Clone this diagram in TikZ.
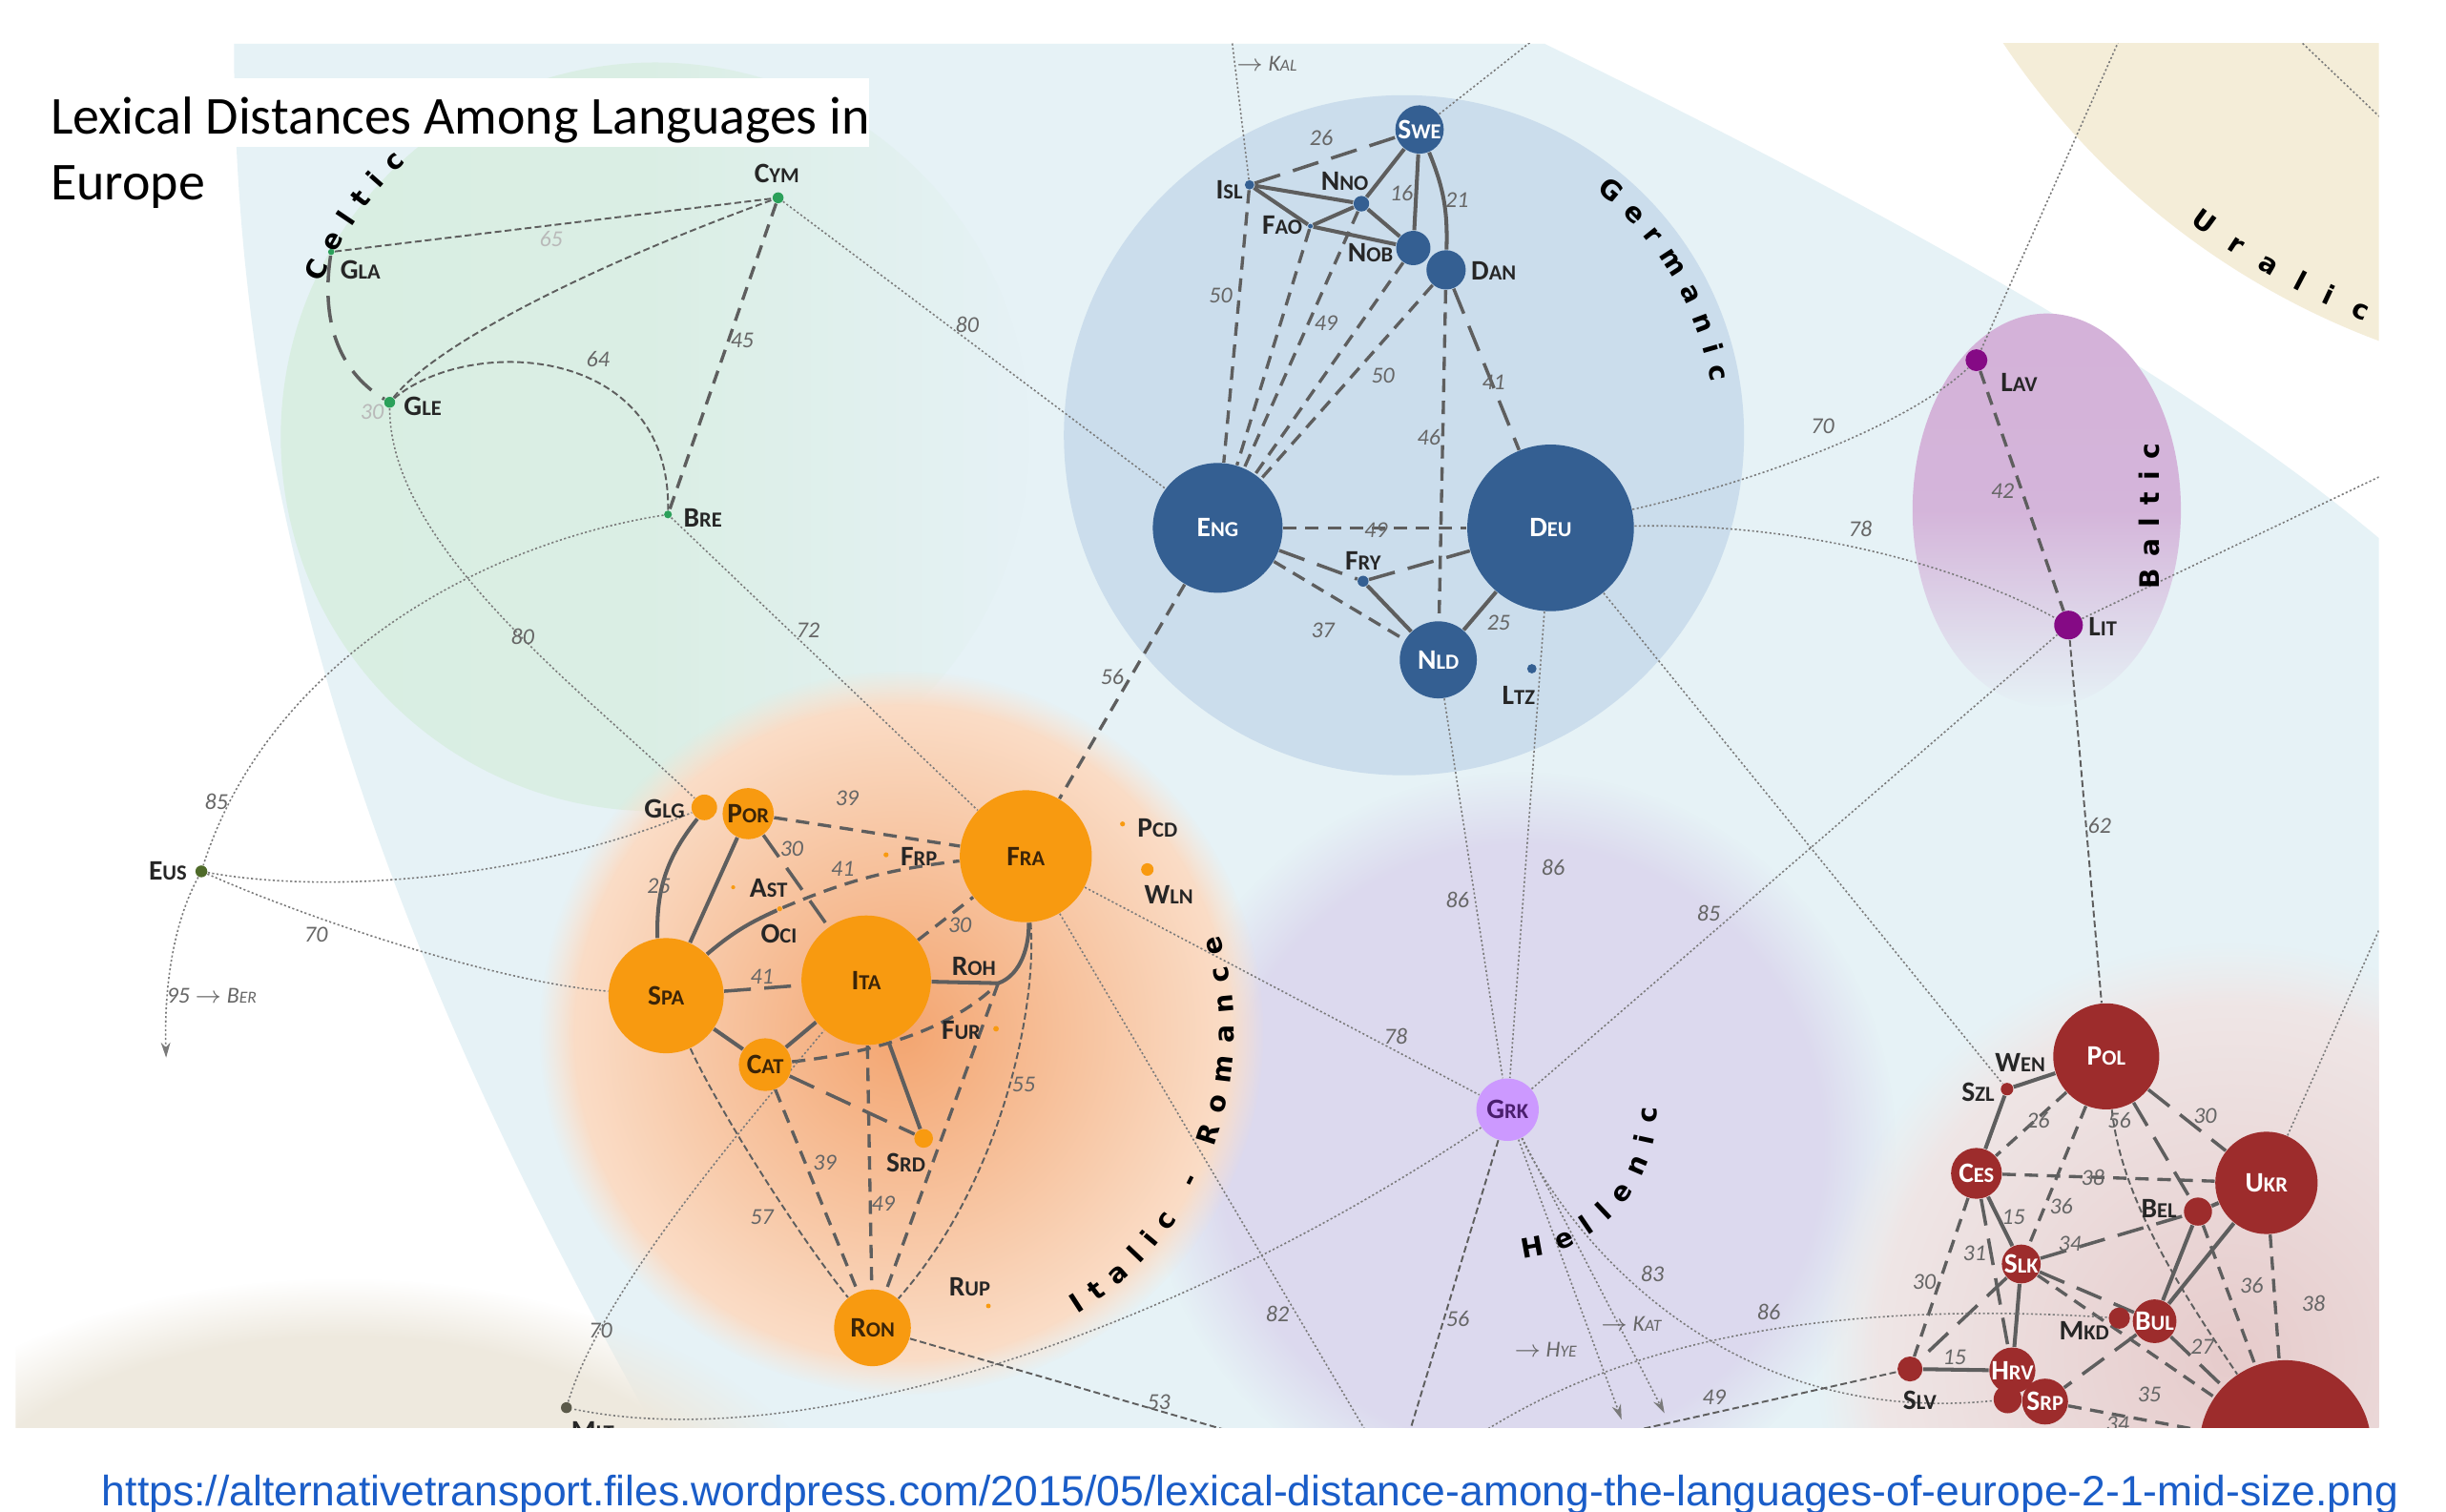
\documentclass[tikz,border=0pt]{standalone}
\usepackage{fontspec}
\setmainfont{Carlito}
\newfontfamily\grpfont{DejaVu Sans}
\newfontfamily\urlfont{Liberation Sans}
\usetikzlibrary{decorations.text,fadings,arrows.meta}

\pgfdeclarelayer{bg}
\pgfdeclarelayer{edges}
\pgfsetlayers{bg,edges,main}

\newcommand\px{0.16352mm}
\newcommand\lng[2]{{\fontsize{8.4}{9}\selectfont #1\fontsize{6.4}{7}\selectfont #2}}
\newcommand\arr{$\rightarrow$}

\definecolor{gercol}{HTML}{345F92}
\definecolor{gerreg}{HTML}{CBDDEC}
\definecolor{romcol}{HTML}{F89A10}
\definecolor{romtxt}{HTML}{3B2408}
\definecolor{romin}{HTML}{F3A570}
\definecolor{romout}{HTML}{FBE2CF}
\definecolor{celcol}{HTML}{2BA05A}
\definecolor{celreg}{HTML}{D9EEE2}
\definecolor{baltcol}{HTML}{850A85}
\definecolor{baltreg}{HTML}{D4B2D9}
\definecolor{slavcol}{HTML}{9D2C2C}
\definecolor{slavin}{HTML}{E6CBCB}
\definecolor{slavout}{HTML}{F0EAEA}
\definecolor{grkcol}{HTML}{CC99FF}
\definecolor{grktxt}{HTML}{4A1E6E}
\definecolor{helreg}{HTML}{DCD9EE}
\definecolor{iereg}{HTML}{E6F2F6}
\definecolor{urareg}{HTML}{F4EDD8}
\definecolor{beireg}{HTML}{EEE9DE}
\definecolor{edgecol}{HTML}{5E5E5E}
\definecolor{linkcol}{HTML}{7A7A7A}
\definecolor{numcol}{HTML}{666666}
\definecolor{urlcol}{HTML}{1A5DC8}
\definecolor{euscol}{HTML}{4F6B2A}
\definecolor{mltcol}{HTML}{5B5A4A}

\tikzfading[name=celfade, left color=transparent!0, right color=transparent!100, middle color=transparent!15]
\tikzfading[name=baltfade, top color=transparent!0, bottom color=transparent!100, middle color=transparent!5]

\tikzset{
  disc/.style={circle, inner sep=0pt, minimum size={2*#1*\px}, font=\bfseries},
  ger/.style={disc=#1, fill=gercol, text=white},
  rom/.style={disc=#1, fill=romcol, text=romtxt},
  cel/.style={disc=#1, fill=celcol},
  bal/.style={disc=#1, fill=baltcol},
  sla/.style={disc=#1, fill=slavcol, text=white},
  lbl/.style={inner sep=0pt, font=\bfseries, text=black!85},
  num/.style={inner sep=0pt, font=\fontsize{6.8}{7}\selectfont\itshape, text=numcol},
  sol/.style={draw=edgecol, line width=1.15pt},
  dsh/.style={draw=edgecol, line width=0.95pt, dash pattern=on 4pt off 2.6pt},
  ldsh/.style={draw=edgecol, line width=1pt, dash pattern=on 8pt off 4pt},
  fdsh/.style={draw=edgecol, line width=0.55pt, dash pattern=on 2pt off 1pt},
  link/.style={draw=linkcol, line width=0.45pt, dash pattern=on 0.6pt off 0.7pt},
  grptext/.style={decorate, decoration={text along path, text align=fit to path,
    text={|\grpfont\bfseries\fontsize{8}{8}\selectfont|#1}}},
}

\begin{document}
\begin{tikzpicture}[x=0.16352mm, y=-0.16352mm, >={Stealth[length=4.5pt,width=2.8pt]}]
\useasboundingbox (0,0) rectangle (1568,969);

% family regions
\begin{pgfonlayer}{bg}
  \fill[white] (0,0) rectangle (1568,969);
  \clip (10,28) rectangle (1525,915);
  \fill[iereg] (150,28) -- (990,28) .. controls (1200,130) and (1400,240) .. (1525,345)
    -- (1525,917) -- (420,917) .. controls (300,700) and (150,400) .. (150,28) -- cycle;
  \fill[urareg] (1700,-250) circle[radius=500];
  \fill[beireg, path fading=circle with fuzzy edge 20 percent] (220,1010) ellipse[x radius=330, y radius=190];
  \fill[celreg, path fading=celfade] (420,280) circle[radius=240];
  \fill[helreg, path fading=circle with fuzzy edge 20 percent] (975,735) circle[radius=240];
  \fill[gerreg] (900,279) circle[radius=218];
  \shade[inner color=romin, outer color=romout, path fading=circle with fuzzy edge 10 percent] (578,662) circle[radius=232];
  \shade[inner color=slavin, outer color=slavout, path fading=circle with fuzzy edge 15 percent] (1430,870) circle[radius=265];
  \fill[baltreg, path fading=baltfade] (1312,327) ellipse[x radius=86, y radius=126];
  % family names
  \path[grptext=Germanic] (900,280) ++(-52:200) arc[start angle=-52, end angle=-10, radius=200];
  \path[grptext=Celtic] (415,270) ++(-157:227) arc[start angle=-157, end angle=-133, radius=227];
  \path[grptext={Italic - Romance}] (578,662) ++(58:213) arc[start angle=58, end angle=-17, radius=213];
  \path[grptext=Hellenic] (966.4,711.4) ++(84:96) arc[start angle=84, end angle=-1, radius=96];
  \path[grptext=Uralic] (1700,-250) ++(127:492) arc[start angle=127, end angle=112, radius=492];
\end{pgfonlayer}

\begin{scope}
  \clip (10,28) rectangle (1525,915);
  \fill[white] (10,50) rectangle (557,94);
  \node[rotate=90, inner sep=0pt, font=\grpfont\bfseries\fontsize{8}{8}\selectfont\addfontfeatures{LetterSpace=45}] (baltic) at (1378,331) {Baltic};

  % Germanic
  \node[ger=15.5] (swe) at (910,83) {\lng{S}{WE}};
  \node[ger=3] (isl) at (801,118.5) {};
  \node[ger=5] (nno) at (872.7,130.6) {};
  \node[ger=1.5] (fao) at (840,145) {};
  \node[ger=11] (nob) at (906,159) {};
  \node[ger=12.6] (dan) at (927,173) {};
  \node[ger=41.6] (eng) at (780.6,338.4) {\lng{E}{NG}};
  \node[ger=53.4] (deu) at (994,338.4) {\lng{D}{EU}};
  \node[ger=3.5] (fry) at (873.8,372.6) {};
  \node[ger=24.7] (nld) at (922,423) {\lng{N}{LD}};
  \node[ger=3] (ltz) at (982,428.7) {};
  % Celtic
  \node[cel=3.5] (cym) at (498.8,126.8) {};
  \node[cel=2] (gla) at (212.3,161.5) {};
  \node[cel=3.5] (gle) at (249.8,257.9) {};
  \node[cel=2.5] (bre) at (428.2,329.8) {};
  % Romance
  \node[rom=8.2] (glg) at (451.5,517.6) {};
  \node[rom=16.4] (por) at (479.6,521.6) {\lng{P}{OR}};
  \node[rom=42.3] (fra) at (657.6,548.9) {\lng{F}{RA}};
  \node[rom=36.9] (spa) at (427,638.3) {\lng{S}{PA}};
  \node[rom=41.5] (ita) at (555.3,628.4) {\lng{I}{TA}};
  \node[rom=16.9] (cat) at (490.5,682.5) {\lng{C}{AT}};
  \node[rom=6] (srd) at (592.1,729.8) {};
  \node[rom=24.6] (ron) at (559.3,851.2) {\lng{R}{ON}};
  \node[rom=1.3] (ast) at (470,568.8) {};
  \node[rom=1.6] (oci) at (499.8,582.6) {};
  \node[rom=1.6] (frp) at (568,548) {};
  \node[rom=1.6] (pcd) at (719.6,528.2) {};
  \node[rom=4] (wln) at (735.5,557.4) {};
  \coordinate (roh) at (639.9,630.3);
  \node[rom=1.8] (fur) at (638.5,659.5) {};
  \node[rom=1.5] (rup) at (633.6,837.2) {};
  % Baltic
  \node[bal=7] (lav) at (1267,230.9) {};
  \node[bal=9.2] (lit) at (1326,400.7) {};
  % Slavic
  \node[sla=34] (pol) at (1350.2,677.2) {\lng{P}{OL}};
  \node[sla=32.8] (ukr) at (1452.9,758.3) {\lng{U}{KR}};
  \node[sla=16.3] (ces) at (1267,752.2) {\lng{C}{ES}};
  \node[sla=4] (szl) at (1286.6,698.2) {};
  \node[sla=9] (bel) at (1409,776.7) {};
  \node[sla=11.8] (slk) at (1295.7,810.3) {\lng{S}{LK}};
  \node[sla=14] (bul) at (1381.2,847) {\lng{B}{UL}};
  \node[sla=6.8] (mkd) at (1358.6,845) {};
  \node[sla=8] (slv) at (1224.4,877.6) {};
  \node[sla=9] (bos) at (1287,897) {};
  \node[sla=12.5] (hrv) at (1290,878.6) {\lng{H}{RV}};
  \node[sla=14.7] (srp) at (1311,898.5) {\lng{S}{RP}};
  \node[sla=55] (rus) at (1465,927) {};
  % isolates
  \node[disc=20, fill=grkcol, text=grktxt] (grk) at (966.4,711.4) {\lng{G}{RK}};
  \node[disc=3.8, fill=euscol] (eus) at (129.1,558.6) {};
  \node[disc=3.5, fill=mltcol] (mlt) at (363.1,902.4) {};

  % names beside the small discs
  \foreach \x/\y/\a/\b/\nm in {788/122/I/SL/isl, 862/116/N/NO/nno, 822/144.6/F/AO/fao,
      878.5/162/N/OB/nob, 957.5/173.9/D/AN/dan, 873.8/359.4/F/RY/fry, 973.5/445.6/L/TZ/ltz,
      498/111/C/YM/cym, 231/173/G/LA/gla, 271/260.5/G/LE/gle, 450.5/332/B/RE/bre,
      426/518.4/G/LG/glg, 580.7/745.2/S/RD/srd, 492.7/569.4/A/ST/ast, 499.3/598.4/O/CI/oci,
      589/549.4/F/RP/frp, 742/530.8/P/CD/pcd, 749.3/573.3/W/LN/wln, 624.3/619.7/R/OH/roh,
      616.1/660.3/F/UR/fur, 621.6/825.2/R/UP/rup, 1294.4/244.9/L/AV/lav, 1348/402/L/IT/lit,
      1268/700/S/ZL/szl, 1295/681/W/EN/wen, 1384/774.6/B/EL/bel, 1336/853/M/KD/mkd,
      1230.7/897.8/S/LV/slv, 107.6/558.6/E/US/eus, 380/917/M/LT/mlt}
    \node[lbl] (\nm-l) at (\x,\y) {\lng{\a}{\b}};

  % distances
  \foreach \x/\y/\t [count=\i] in {847/88.5/26, 898.5/124/16, 934/128.5/21, 782.5/189.6/50,
      850/207/49, 886.5/240.6/50, 957.5/244.9/41, 916/280.7/46, 882/339.8/49, 848/404/37,
      960.7/399.4/25, 713/434/56, 383.3/230/64, 475.7/218/45,
      620/208/80, 518/404/72, 335/408/80, 138.7/513.8/85, 202.6/599.2/70, 1168.4/273.4/70,
      1192.5/338.8/78, 934.3/576.9/86, 995.6/556.1/86, 1095.3/585.4/85, 894.7/664.6/78,
      385/852.9/70, 818.9/842.1/82, 934.5/845.6/56, 1059.2/816.4/83, 1133.8/840.9/86,
      1098.8/895.9/49, 742.8/899/53, 1283.7/314.5/42, 1345.9/529.2/62,
      543/511.7/39, 507.5/544/30, 540.2/556.9/41, 422.3/568/25, 488.4/626.3/41, 615.3/593.2/30,
      528.7/745.6/39, 566.2/771.6/49, 656.2/695.4/55, 488.4/780.2/57,
      1306.5/718/26, 1358.6/718/56, 1413.5/715.5/30, 1341.6/754.7/38, 1290.7/780.4/15,
      1321.3/773.6/36, 1265.8/803.2/31, 1326.9/797.5/34, 1233.5/821.5/30, 1443.4/824/36,
      1483/835.8/38, 1411.8/863.3/27, 1252.9/870.4/15, 1377.8/893.9/35, 1357.5/913.2/34}
    \node[num] (num\i) at (\x,\y) {\t};
  \node[num, text=gray!55] (num65) at (353.3,152.9) {65};
  \node[num, text=gray!55] (num30) at (238.5,264) {30};
  \node[num] (ber-l) at (135.7,638.5) {95 \arr\ B{\fontsize{5}{5}\selectfont ER}};
  \node[num] (hye-l) at (990.7,865.3) {\arr\ H{\fontsize{5}{5}\selectfont YE}};
  \node[num] (kat-l) at (1045.6,849) {\arr\ K{\fontsize{5}{5}\selectfont AT}};
  \node[num] (kal-l) at (812,41) {\arr\ K{\fontsize{5}{5}\selectfont AL}};
\end{scope}

\begin{pgfonlayer}{edges}
  \clip (10,28) rectangle (1525,915);
  % Germanic
  \draw[sol] (isl) -- (nno);
  \draw[sol] (isl) -- (fao);
  \draw[sol] (fao) -- (nob);
  \draw[sol] (fao) -- (nno);
  \draw[sol] (nno) -- (nob);
  \draw[sol] (nno) -- (swe);
  \draw[sol] (swe) -- (nob);
  \draw[sol] (swe) to[bend left=12] (dan);
  \draw[ldsh] (isl) -- (swe);
  \draw[dsh] (isl) -- (eng);
  \draw[dsh] (fao) -- (eng);
  \draw[dsh] (nno) -- (eng);
  \draw[dsh] (nob) -- (eng);
  \draw[dsh] (dan) -- (eng);
  \draw[dsh] (dan) -- (nld);
  \draw[ldsh] (dan) -- (deu);
  \draw[dsh] (eng) -- (deu);
  \draw[ldsh] (eng) -- (fry);
  \draw[ldsh] (fry) -- (deu);
  \draw[sol] (fry) -- (nld);
  \draw[dsh] (eng) -- (nld);
  \draw[sol] (nld) -- (deu);
  % Celtic
  \draw[fdsh] (gla) -- (cym);
  \draw[fdsh] (gle) .. controls (280,220) and (380,170) .. (cym);
  \draw[fdsh] (gle) .. controls (300,215) and (430,220) .. (bre);
  \draw[dsh] (cym) -- (bre);
  \draw[ldsh] (gla) .. controls (205,210) and (220,240) .. (gle);
  % Romance
  \draw[sol] (glg) to[bend right=20] (spa);
  \draw[sol] (por) -- (spa);
  \draw[dsh] (por) -- (fra);
  \draw[ldsh] (por) -- (ita);
  \draw[sol] (spa) to[bend left=8] (oci);
  \draw[dsh] (oci) to[bend left=8] (fra);
  \draw[ldsh] (spa) -- (ita);
  \draw[sol] (spa) -- (cat);
  \draw[sol] (cat) -- (ita);
  \draw[dsh] (ita) -- (fra);
  \draw[sol] (ita) -- (roh) .. controls (655,625) and (660,605) .. (fra);
  \draw[dsh] (cat) .. controls (560,675) and (610,660) .. (roh);
  \draw[dsh] (roh) -- (ron);
  \draw[ldsh] (cat) -- (srd);
  \draw[sol] (ita) -- (srd);
  \draw[dsh] (cat) -- (ron);
  \draw[dsh] (ita) -- (ron);
  \draw[fdsh] (fra) .. controls (665,650) and (640,760) .. (ron);
  \draw[fdsh] (spa) .. controls (460,710) and (510,790) .. (ron);
  \draw[dsh] (eng) -- (fra);
  % Baltic and Slavic
  \draw[dsh] (lav) -- (lit);
  \draw[fdsh] (lit) -- (pol);
  \draw[sol] (szl) -- (pol);
  \draw[sol] (szl) -- (ces);
  \draw[dsh] (pol) -- (ces);
  \draw[dsh] (pol) -- (slk);
  \draw[ldsh] (pol) -- (bel);
  \draw[ldsh] (pol) -- (ukr);
  \draw[fdsh] (pol) .. controls (1360,770) and (1400,830) .. (rus);
  \draw[dsh] (ces) -- (ukr);
  \draw[sol] (ces) -- (slk);
  \draw[dsh] (ces) -- (slv);
  \draw[ldsh] (ces) -- (hrv);
  \draw[ldsh] (slk) -- (bel);
  \draw[ldsh] (slk) -- (bul);
  \draw[ldsh] (slk) -- (slv);
  \draw[sol] (slk) -- (hrv);
  \draw[sol] (slv) -- (hrv);
  \draw[dsh] (slk) -- (rus);
  \draw[ldsh] (bul) -- (srp);
  \draw[ldsh] (bul) -- (rus);
  \draw[dsh] (srp) -- (rus);
  \draw[sol] (bel) -- (bul);
  \draw[sol] (ukr) -- (bul);
  \draw[sol] (bel) -- (ukr);
  \draw[dsh] (bel) -- (rus);
  \draw[dsh] (ukr) -- (rus);
  % links between families
  \coordinate (kal) at (789,20);
  \coordinate (sweout) at (990,20);
  \coordinate (ber) at (106.5,678);
  \coordinate (fraout) at (877,920);
  \coordinate (grkout) at (903,920);
  \coordinate (hye) at (1039.5,910);
  \coordinate (kat) at (1067,906);
  \coordinate (mkdin) at (940,925);
  \coordinate (slvin) at (1035,920);
  \coordinate (ronout) at (790,918);
  \coordinate (lavout) at (1361,20);
  \coordinate (litout) at (1535,301);
  \coordinate (ukrout) at (1530,585);
  \coordinate (uraa) at (1470,22);
  \coordinate (urab) at (1535,84);
  \draw[link] (isl) -- (kal);
  \draw[link] (swe) -- (sweout);
  \draw[link] (cym) -- (eng);
  \draw[link] (gle) .. controls (250,350) and (370,440) .. (glg);
  \draw[link] (bre) .. controls (300,350) and (170,430) .. (eus);
  \draw[link] (bre) -- (fra);
  \draw[link] (eus) .. controls (220,575) and (350,560) .. (glg);
  \draw[link] (eus) .. controls (200,590) and (320,630) .. (spa);
  \draw[link, ->] (eus) .. controls (112,590) and (105,630) .. (ber);
  \draw[link] (deu) .. controls (1120,310) and (1220,275) .. (lav);
  \draw[link] (deu) .. controls (1150,335) and (1250,360) .. (lit);
  \draw[link] (deu) -- (grk);
  \draw[link] (nld) -- (grk);
  \draw[link] (deu) -- (szl);
  \draw[link] (fra) -- (grk);
  \draw[link] (fra) -- (fraout);
  \draw[link] (grk) -- (lit);
  \draw[link] (grk) .. controls (760,850) and (520,935) .. (mlt);
  \draw[link] (mlt) .. controls (385,830) and (470,730) .. (ita);
  \draw[fdsh] (grk) -- (grkout);
  \draw[link, ->] (grk) -- (hye);
  \draw[link, ->] (grk) -- (kat);
  \draw[link] (grk) .. controls (1010,800) and (1110,915) .. (bos);
  \draw[link] (mkdin) .. controls (1050,850) and (1200,835) .. (mkd);
  \draw[fdsh] (slvin) -- (slv);
  \draw[fdsh] (ron) -- (ronout);
  \draw[link] (lav) -- (lavout);
  \draw[link] (lit) -- (litout);
  \draw[link] (ukr) -- (ukrout);
  \draw[link] (uraa) -- (urab);
\end{pgfonlayer}

% title and source
\node[anchor=north west, align=left, inner sep=0pt, font=\fontsize{15.9}{19.5}\selectfont] (title) at (32,62)
  {Lexical Distances Among Languages in\\Europe};
\node[anchor=west, inner sep=0pt, text=urlcol, font=\urlfont\fontsize{12.65}{14}\selectfont] (url) at (65,958)
  {https://alternativetransport.files.wordpress.com/2015/05/lexical-distance-among-the-languages-of-europe-2-1-mid-size.png};
\end{tikzpicture}
\end{document}
